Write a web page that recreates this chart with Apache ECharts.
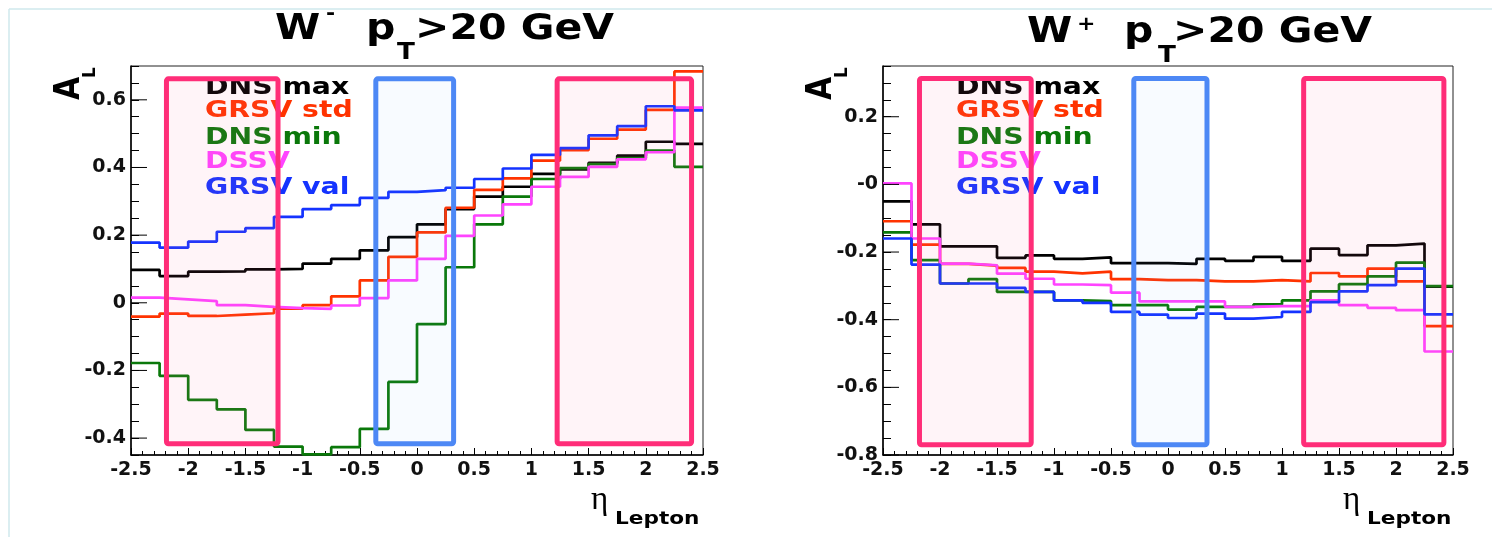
<!DOCTYPE html>
<html>
<head>
<meta charset="utf-8">
<script src="https://cdn.jsdelivr.net/npm/echarts@6/dist/echarts.min.js"></script>
<style>
html,body{margin:0;padding:0;background:#fff;}
#c{width:1492px;height:537px;}
</style>
</head>
<body>
<div id="c"></div>
<script>
// ---------- data ----------
const etaEdges = [-2.5,-2.25,-2,-1.75,-1.5,-1.25,-1,-0.75,-0.5,-0.25,0,0.25,0.5,0.75,1,1.25,1.5,1.75,2,2.25,2.5];
const seriesNames = ['DNS max','GRSV std','DNS min','DSSV','GRSV val'];

// W- (left panel), one value per eta bin
const wmDnsMax  = [0.097,0.079,0.092,0.093,0.099,0.100,0.116,0.130,0.155,0.194,0.232,0.277,0.314,0.343,0.381,0.394,0.414,0.435,0.476,0.470];
const wmGrsvStd = [-0.041,-0.032,-0.039,-0.035,-0.031,-0.017,-0.007,0.019,0.066,0.136,0.208,0.281,0.334,0.368,0.420,0.451,0.485,0.512,0.570,0.684];
const wmDnsMin  = [-0.178,-0.216,-0.287,-0.315,-0.376,-0.425,-0.448,-0.427,-0.373,-0.234,-0.063,0.105,0.232,0.314,0.366,0.398,0.410,0.428,0.450,0.402];
const wmDssv    = [0.015,0.010,0.005,-0.007,-0.012,-0.016,-0.018,-0.008,0.014,0.066,0.130,0.198,0.258,0.291,0.343,0.372,0.402,0.424,0.445,0.577];
const wmGrsvVal = [0.178,0.163,0.181,0.210,0.221,0.254,0.277,0.289,0.310,0.328,0.333,0.340,0.366,0.397,0.437,0.457,0.495,0.522,0.581,0.569];

// W+ (right panel)
const wpDnsMax  = [-0.050,-0.118,-0.183,-0.183,-0.217,-0.210,-0.220,-0.216,-0.233,-0.233,-0.235,-0.220,-0.226,-0.214,-0.226,-0.190,-0.209,-0.180,-0.175,-0.302];
const wpGrsvStd = [-0.109,-0.178,-0.235,-0.240,-0.247,-0.258,-0.263,-0.258,-0.280,-0.283,-0.283,-0.287,-0.287,-0.283,-0.287,-0.262,-0.272,-0.249,-0.287,-0.419];
const wpDnsMin  = [-0.142,-0.224,-0.293,-0.280,-0.318,-0.318,-0.343,-0.345,-0.357,-0.357,-0.370,-0.362,-0.362,-0.355,-0.343,-0.316,-0.295,-0.272,-0.231,-0.301];
const wpDssv    = [0.003,-0.160,-0.234,-0.239,-0.264,-0.279,-0.296,-0.298,-0.320,-0.346,-0.346,-0.346,-0.362,-0.360,-0.360,-0.343,-0.357,-0.365,-0.372,-0.494];
const wpGrsvVal = [-0.160,-0.237,-0.293,-0.293,-0.306,-0.318,-0.343,-0.350,-0.377,-0.385,-0.395,-0.382,-0.397,-0.392,-0.377,-0.348,-0.316,-0.298,-0.249,-0.384];

// highlight boxes: [etaFrom, etaTo, yFrom, yTo]
const wmPinkBoxes = [[-2.19,-1.215,-0.417,0.662],[1.225,2.40,-0.417,0.662]];
const wmBlueBoxes = [[-0.36,0.32,-0.417,0.662]];
const wpPinkBoxes = [[-2.18,-1.20,-0.77,0.313],[1.19,2.42,-0.77,0.313]];
const wpBlueBoxes = [[-0.30,0.342,-0.77,0.313]];

// axis tick labels
const wmYTicks = [-0.4,-0.2,0,0.2,0.4,0.6];
const wmYLabels = ['-0.4','-0.2','0','0.2','0.4','0.6'];
const wpYTicks = [-0.8,-0.6,-0.4,-0.2,0,0.2];
const wpYLabels = ['-0.8','-0.6','-0.4','-0.2','-0','0.2'];

// ---------- styles ----------
const colors = ['#000000','#ff3300','#0a780a','#ff44ff','#1433ff'];
const FONT = 'DejaVu Sans';
const pinkStroke = '#ff2d78', pinkFill = 'rgba(255,110,160,0.075)';
const blueStroke = '#4d88f5', blueFill = 'rgba(110,180,255,0.05)';

function hist(vals){
  const d = vals.map((v,i)=>[etaEdges[i], v]);
  d.push([etaEdges[etaEdges.length-1], vals[vals.length-1]]);
  return d;
}
function labelFmt(ticks, labels){
  return function(v){
    for (let i=0;i<ticks.length;i++) if (Math.abs(v-ticks[i])<1e-6) return labels[i];
    return '';
  };
}

const chart = echarts.init(document.getElementById('c'), null, {renderer:'canvas'});

const grids = [
  {left:131, right:789, top:66, bottom:82, show:true, borderColor:'#222', borderWidth:1},
  {left:883, right:39, top:66, bottom:82, show:true, borderColor:'#222', borderWidth:1}
];
const tickLabelStyle = {color:'#111', fontFamily:FONT, fontWeight:'bold', fontSize:19};
function xAxis(gi){
  return {type:'value', gridIndex:gi, min:-2.5, max:2.5, interval:0.5,
    axisLine:{show:true, onZero:false, lineStyle:{color:'#000', width:1.5}},
    axisTick:{show:true, inside:true, length:7, lineStyle:{color:'#000', width:1}},
    minorTick:{show:true, splitNumber:5, length:4, lineStyle:{color:'#000', width:1}},
    splitLine:{show:false},
    axisLabel:Object.assign({show:true, margin:6}, tickLabelStyle)
  };
}
function yAxis(gi, mn, mx, ticks, labels){
  return {type:'value', gridIndex:gi, min:mn, max:mx, interval:0.05,
    axisLine:{show:true, onZero:false, lineStyle:{color:'#000', width:1.5}},
    axisTick:{show:true, inside:true, length:8, lineStyle:{color:'#000', width:1}},
    splitLine:{show:false},
    axisLabel:Object.assign({show:true, margin:5, formatter: labelFmt(ticks, labels)}, tickLabelStyle)
  };
}

const series = [];
function addPanel(gi, arrs, pink, blue, ticks){
  arrs.forEach((a,k)=>{
    series.push({type:'line', name:seriesNames[k], xAxisIndex:gi, yAxisIndex:gi, step:'end',
      data:hist(a), showSymbol:false, symbol:'none', z:3,
      lineStyle:{color:colors[k], width:2.7}, silent:true});
  });
  // major y ticks
  series.push({type:'custom', xAxisIndex:gi, yAxisIndex:gi, z:4, silent:true,
    data: ticks.map(v=>[-2.5, v]),
    renderItem:function(params, api){
      const p = api.coord([api.value(0), api.value(1)]);
      return {type:'line', shape:{x1:p[0], y1:p[1], x2:p[0]+16, y2:p[1]}, style:{stroke:'#000', lineWidth:1}};
    }});
  const boxSeries = (boxes, stroke, fill)=>({type:'custom', xAxisIndex:gi, yAxisIndex:gi, z:6, silent:true,
    data: boxes,
    encode:{x:[0,1], y:[2,3]},
    renderItem:function(params, api){
      const a = api.coord([api.value(0), api.value(3)]);
      const b = api.coord([api.value(1), api.value(2)]);
      return {type:'rect', shape:{x:a[0], y:a[1], width:b[0]-a[0], height:b[1]-a[1], r:2},
        style:{fill:fill, stroke:stroke, lineWidth:5}};
    }});
  series.push(boxSeries(pink, pinkStroke, pinkFill));
  series.push(boxSeries(blue, blueStroke, blueFill));
}
addPanel(0, [wmDnsMax, wmGrsvStd, wmDnsMin, wmDssv, wmGrsvVal], wmPinkBoxes, wmBlueBoxes, wmYTicks);
addPanel(1, [wpDnsMax, wpGrsvStd, wpDnsMin, wpDssv, wpGrsvVal], wpPinkBoxes, wpBlueBoxes, wpYTicks);

// ---------- texts ----------
function txt(x, y, s, size, opts){
  opts = opts || {};
  return {type:'text', x:x, y:y, z:1, scaleX:opts.sx||1, scaleY:opts.sy||1, rotation:opts.rot||0,
    style:{text:s, x:0, y:0, fill:opts.color||'#000', fontFamily:opts.font||FONT, fontWeight:opts.weight||'bold',
      fontSize:size, align:opts.align||'left', verticalAlign:'middle'}};
}
const graphics = [
  {type:'line', z:0, shape:{x1:9, y1:9, x2:1492, y2:9}, style:{stroke:'#cfe8ec', lineWidth:1.5}},
  {type:'line', z:0, shape:{x1:9, y1:9, x2:9, y2:537}, style:{stroke:'#cfe8ec', lineWidth:1.5}}
];
// titles
function title(base, xW, xSup, sup, supY, xp, xT, xRest){
  graphics.push(txt(xW, base-13, 'W', 36, {sx:1.14}));
  graphics.push(txt(xSup, supY, sup, 20, {sx:1.1}));
  graphics.push(txt(xp, base-13, 'p', 36, {sx:1.14}));
  graphics.push(txt(xT, base+10, 'T', 23, {sx:1.14}));
  graphics.push(txt(xRest, base-13, '>20 GeV', 36, {sx:1.14}));
}
title(43, 275, 326, '-', 14, 366, 397, 415);
title(46, 1027, 1077, '+', 25, 1124, 1158, 1173);
// legends
const legY = [88,111,138,162,188];
[205, 956].forEach(lx=>{
  seriesNames.forEach((n,k)=>graphics.push(txt(lx, legY[k], n, 23, {sx:1.23, color:colors[k]})));
});
// y-axis titles (A_L)
[[70,91],[822,843]].forEach(p=>{
  graphics.push(txt(p[0], 100, 'A', 30, {rot:Math.PI/2, sy:1.2}));
  graphics.push(txt(p[1], 78, 'L', 17, {rot:Math.PI/2}));
});
// x-axis titles (eta_Lepton)
[[591,615],[1343,1367]].forEach(p=>{
  graphics.push(txt(p[0], 500, 'η', 33, {weight:'normal', font:'Liberation Serif'}));
  graphics.push(txt(p[1], 519, 'Lepton', 18, {sx:1.2}));
});

chart.setOption({
  animation:false,
  backgroundColor:'#ffffff',
  grid:grids,
  xAxis:[xAxis(0), xAxis(1)],
  yAxis:[yAxis(0,-0.45,0.70,wmYTicks,wmYLabels), yAxis(1,-0.8,0.35,wpYTicks,wpYLabels)],
  series:series,
  graphic:{elements:graphics}
});
</script>
</body>
</html>
